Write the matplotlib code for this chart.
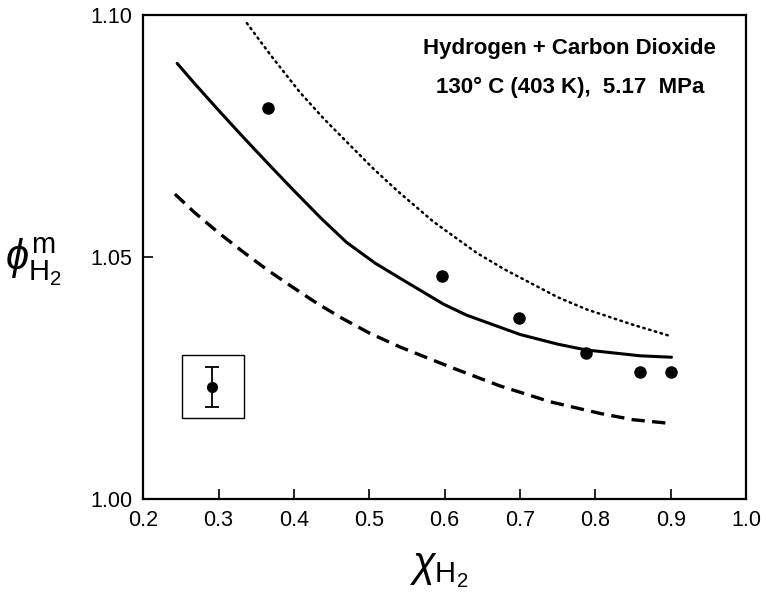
import matplotlib
matplotlib.use("Agg")
import matplotlib.pyplot as plt
from matplotlib.patches import Rectangle

plt.rcParams['font.family'] = ['Liberation Sans', 'DejaVu Sans']
plt.rcParams['mathtext.fontset'] = 'custom'
plt.rcParams['mathtext.rm'] = 'Liberation Sans'
plt.rcParams['mathtext.it'] = 'Liberation Sans:italic'
plt.rcParams['mathtext.bf'] = 'Liberation Sans:bold'

# experimental points
x_exp = [0.365, 0.597, 0.699, 0.788, 0.859, 0.900]
y_exp = [1.0808, 1.0461, 1.0373, 1.0302, 1.0262, 1.0263]

# solid curve
x_solid = [0.245, 0.27, 0.30, 0.33, 0.365, 0.40, 0.436, 0.47, 0.508, 0.541,
           0.598, 0.629, 0.70, 0.75, 0.788, 0.859, 0.901]
y_solid = [1.0900, 1.0855, 1.0803, 1.0752, 1.0694, 1.0637, 1.0580, 1.0530, 1.0487, 1.0456,
           1.0403, 1.0380, 1.0340, 1.0320, 1.0308, 1.0296, 1.0293]

# dotted curve
x_dot = [0.3375, 0.37, 0.408, 0.44, 0.475, 0.505, 0.537, 0.585, 0.643, 0.68,
         0.718, 0.75, 0.788, 0.85, 0.899]
y_dot = [1.0983, 1.0915, 1.0840, 1.0785, 1.0730, 1.0683, 1.0637, 1.0573, 1.0508, 1.0474,
         1.0443, 1.0417, 1.0392, 1.0360, 1.0337]

# dashed curve
x_dash = [0.242, 0.268, 0.30, 0.333, 0.365, 0.398, 0.43, 0.462, 0.50, 0.541,
          0.607, 0.673, 0.740, 0.806, 0.850, 0.901]
y_dash = [1.0630, 1.0592, 1.0550, 1.0510, 1.0473, 1.0438, 1.0405, 1.0375, 1.0343, 1.0314,
          1.0273, 1.0234, 1.0201, 1.0177, 1.0164, 1.0156]

# error-bar key
err_x = 0.291
err_y = 1.0231
err_half = 0.0041

xticks = [0.2, 0.3, 0.4, 0.5, 0.6, 0.7, 0.8, 0.9, 1.0]
xticklabels = ['0.2', '0.3', '0.4', '0.5', '0.6', '0.7', '0.8', '0.9', '1.0']
yticks = [1.00, 1.05, 1.10]
yticklabels = ['1.00', '1.05', '1.10']

fig = plt.figure(figsize=(7.66, 5.97), dpi=100)
ax = fig.add_axes([0.187, 0.164, 0.787, 0.811])

ax.plot(x_solid, y_solid, color='black', lw=2.2, solid_capstyle='round')
ax.plot(x_dot, y_dot, color='black', lw=1.8, linestyle=(0, (0.6, 1.8)), dash_capstyle='round')
ax.plot(x_dash, y_dash, color='black', lw=2.4, linestyle=(0, (4, 2.2)))
ax.plot(x_exp, y_exp, 'o', color='black', ms=8)

ax.add_patch(Rectangle((0.252, 1.0167), 0.082, 0.0131, fill=False, lw=1.0, edgecolor='black'))
ax.errorbar([err_x], [err_y], yerr=[err_half], fmt='o', color='black', ms=7,
            capsize=5, elinewidth=1.3, capthick=1.3)

ax.text(0.766, 1.093, 'Hydrogen + Carbon Dioxide', ha='center', va='center',
        fontsize=16, fontweight='bold')
ax.text(0.766, 1.085, '130\u00b0 C (403 K),  5.17  MPa', ha='center', va='center',
        fontsize=16, fontweight='bold')

ax.set_xlim(0.2, 1.0)
ax.set_ylim(1.00, 1.10)
ax.set_xticks(xticks)
ax.set_xticklabels(xticklabels)
ax.set_yticks(yticks)
ax.set_yticklabels(yticklabels)
ax.tick_params(direction='in', length=7, width=1.2, labelsize=15.5, top=False, right=False, pad=8)
for s in ax.spines.values():
    s.set_linewidth(1.6)

ax.set_xlabel(r'$\chi_{\mathrm{H}_2}$', fontsize=30)
ax.xaxis.set_label_coords(0.49, -0.105)
ax.set_ylabel(r'$\phi^{\mathrm{m}}_{\mathrm{H}_2}$', fontsize=30, rotation=0, va='center', ha='center')
ax.yaxis.set_label_coords(-0.183, 0.49)

fig.savefig('out.png', dpi=100)
